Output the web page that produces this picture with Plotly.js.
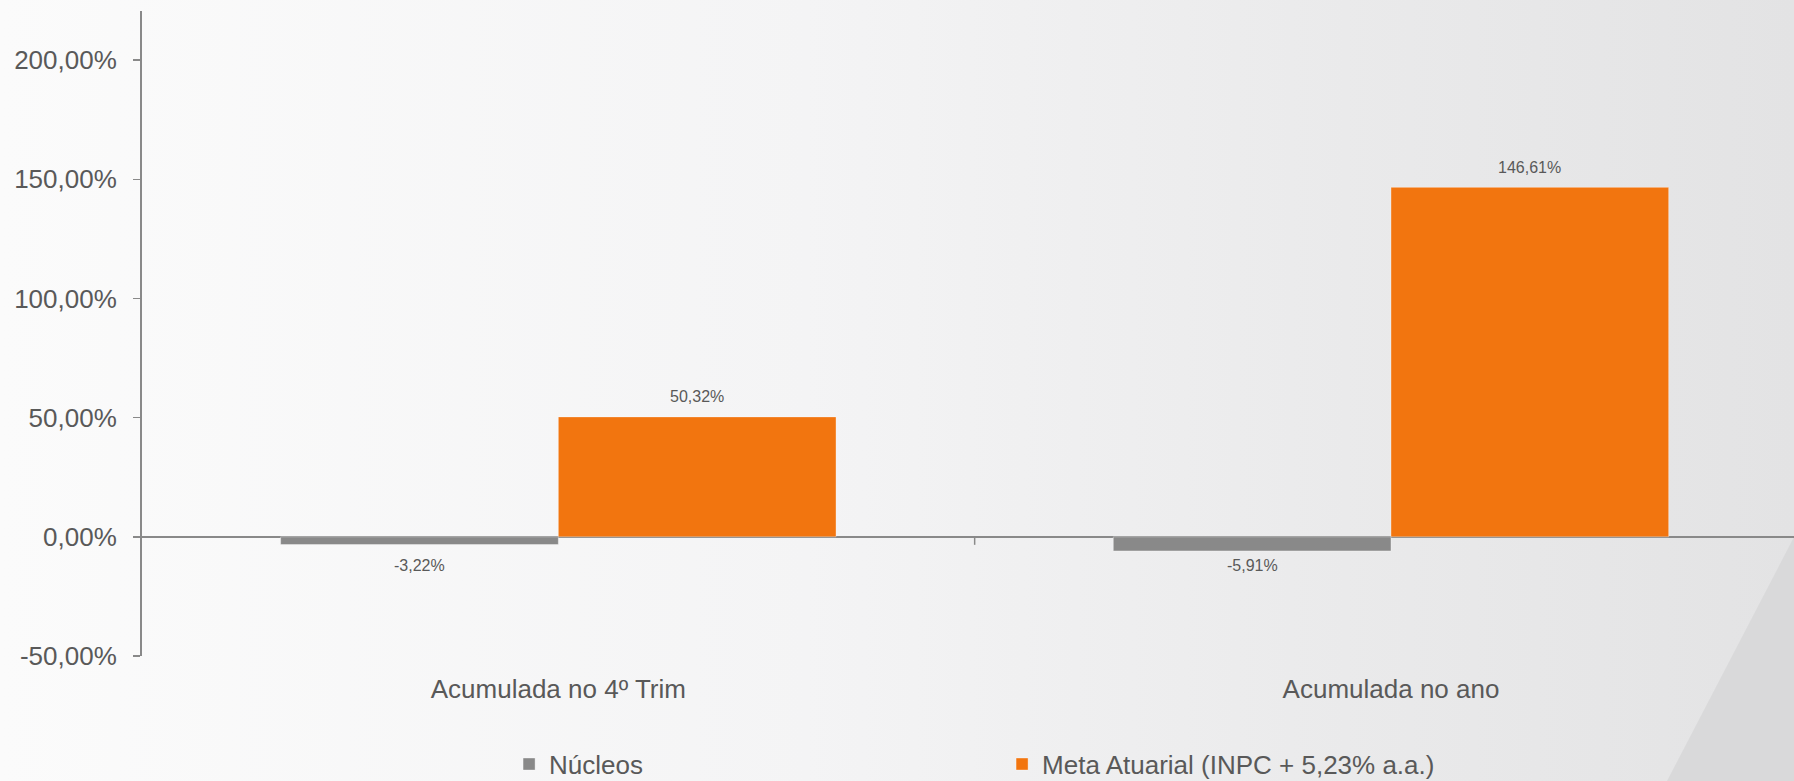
<!DOCTYPE html>
<html>
<head>
<meta charset="utf-8">
<script src="https://cdn.plot.ly/plotly-3.0.1.min.js"></script>
<style>
  html, body { margin: 0; padding: 0; }
  body {
    width: 1794px; height: 781px; overflow: hidden; position: relative;
    background: linear-gradient(to right, #fbfbfb 0%, #f4f4f5 45%, #eaeaeb 75%, #e3e3e4 100%);
    font-family: "Liberation Sans", Arial, sans-serif;
  }
  #deco {
    position: absolute; left: 0; top: 0; width: 1794px; height: 781px;
    background: #d9d9da;
    clip-path: polygon(1794px 537px, 1794px 781px, 1667px 781px);
  }
  #chart { position: absolute; left: 0; top: 0; width: 1794px; height: 781px; }
</style>
</head>
<body>
<div id="deco"></div>
<div id="chart"></div>
<script>
// ---- data ----
const categories = ["Acumulada no 4º Trim", "Acumulada no ano"];
const seriesNames = ["Núcleos", "Meta Atuarial (INPC + 5,23% a.a.)"];
const nucleosValues = [-3.22, -5.91];
const metaValues = [50.32, 146.61];
const seriesColors = ["#898989", "#F2750F"];
const yTickValues = [-50, 0, 50, 100, 150, 200];
const yTickLabels = ["-50,00%", "0,00%", "50,00%", "100,00%", "150,00%", "200,00%"];

const allSeries = [nucleosValues, metaValues];
const textColor = "#595959";
const font = "Liberation Sans, Arial, sans-serif";
const bargap = 0.333;

const traces = allSeries.map((vals, s) => ({
  type: "bar",
  name: seriesNames[s],
  x: categories,
  y: vals,
  marker: { color: seriesColors[s], line: { width: 1, color: "rgba(255,255,255,0.35)" } },
  hoverinfo: "skip"
}));

function fmt(v) {
  return v.toFixed(2).replace(".", ",") + "%";
}

// data labels, positioned from the data through the axis scales
const barW = (1 - bargap) / allSeries.length;
const annotations = [];
allSeries.forEach((vals, s) => {
  vals.forEach((v, i) => {
    annotations.push({
      xref: "x", yref: "y",
      x: i + (s - (allSeries.length - 1) / 2) * barW,
      y: v >= 0 ? v : 0,
      yshift: v >= 0 ? 20 : -29,
      text: fmt(v),
      showarrow: false,
      xanchor: "center", yanchor: "middle",
      font: { family: font, size: 16, color: textColor }
    });
  });
});

const layout = {
  width: 1794, height: 781,
  margin: { l: 142, r: 0, t: 11, b: 125, autoexpand: false },
  paper_bgcolor: "rgba(0,0,0,0)",
  plot_bgcolor: "rgba(0,0,0,0)",
  separators: ",.",
  barmode: "group",
  bargap: bargap,
  bargroupgap: 0,
  showlegend: true,
  legend: {
    orientation: "h",
    x: 0.2222, xanchor: "left",
    y: -0.1312, yanchor: "top",
    entrywidth: 448, entrywidthmode: "pixels",
    font: { family: font, size: 26, color: textColor },
    bgcolor: "rgba(0,0,0,0)",
    traceorder: "normal"
  },
  xaxis: {
    type: "category",
    range: [-0.5, 1.484],
    showgrid: false,
    zeroline: false,
    showline: false,
    ticks: "",
    ticklabelstandoff: 15,
    tickfont: { family: font, size: 26, color: textColor },
    fixedrange: true
  },
  yaxis: {
    range: [-50, 220.6],
    tickmode: "array",
    tickvals: yTickValues,
    ticktext: yTickLabels,
    showgrid: false,
    zeroline: true,
    zerolinecolor: "#898989",
    zerolinewidth: 1.6,
    showline: true,
    linecolor: "#898989",
    linewidth: 2,
    ticks: "outside",
    ticklen: 7,
    tickwidth: 1.5,
    tickcolor: "#898989",
    ticklabelstandoff: 11,
    tickfont: { family: font, size: 26, color: textColor },
    fixedrange: true
  },
  shapes: [{
    type: "line",
    xref: "x", yref: "y",
    x0: 0.5, x1: 0.5,
    ysizemode: "pixel", yanchor: 0,
    y0: 0, y1: -8,
    line: { color: "#898989", width: 1.5 }
  }],
  annotations: annotations
};

Plotly.newPlot("chart", traces, layout, { displayModeBar: false, staticPlot: true });
</script>
</body>
</html>
